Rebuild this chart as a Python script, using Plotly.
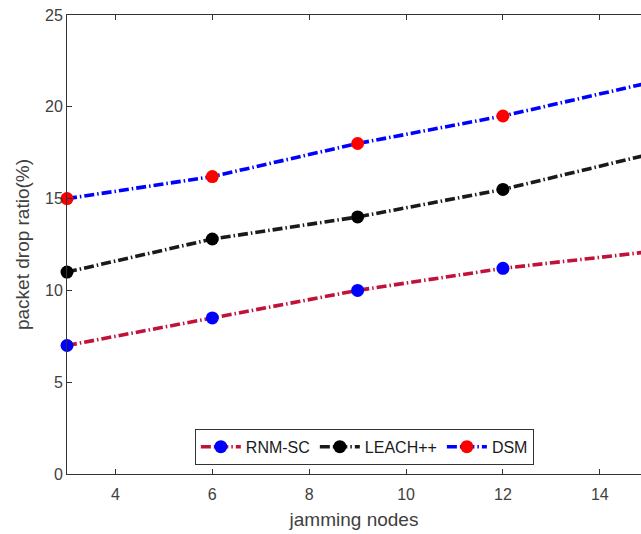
import plotly.graph_objects as go

# Number of jamming nodes
jamming_nodes = [3, 6, 9, 12, 15]

# Packet drop ratio (%) for each scheme
rnm_sc = [7.0, 8.5, 10.0, 11.2, 12.1]
leach_pp = [11.0, 12.8, 14.0, 15.5, 17.4]
dsm = [15.0, 16.2, 18.0, 19.5, 21.3]

series = [
    ("RNM-SC", rnm_sc, "#c1123a", "#0000ff"),
    ("LEACH++", leach_pp, "#1a1a1a", "#000000"),
    ("DSM", dsm, "#0000ff", "#ff0000"),
]

fig = go.Figure()
for name, values, line_color, marker_color in series:
    fig.add_trace(go.Scatter(
        x=jamming_nodes,
        y=values,
        name=name,
        mode="lines+markers",
        line=dict(color=line_color, width=3.6, dash="10px,3px,1.5px,3px"),
        marker=dict(color=marker_color, size=13, line=dict(width=0)),
        cliponaxis=False,
    ))

text_font = "Liberation Sans, Arial, sans-serif"
tick_font = dict(family=text_font, size=16, color="#404040")
title_font = dict(family=text_font, size=19, color="#404040")

fig.update_layout(
    width=641,
    height=534,
    margin=dict(l=67, r=0, t=15, b=60),
    plot_bgcolor="white",
    paper_bgcolor="white",
    font=tick_font,
    showlegend=True,
    legend=dict(
        orientation="h",
        x=0.518,
        xanchor="center",
        y=0.02,
        yanchor="bottom",
        bgcolor="white",
        bordercolor="#333333",
        borderwidth=1,
        font=dict(family=text_font, size=16, color="#1a1a1a"),
        itemwidth=40,
        tracegroupgap=0,
    ),
    xaxis=dict(
        range=[3, 14.85],
        tickvals=[4, 6, 8, 10, 12, 14],
        ticks="inside",
        ticklen=5,
        tickcolor="#333333",
        ticklabelstandoff=6,
        showline=True,
        linecolor="#333333",
        linewidth=1,
        mirror="ticks",
        showgrid=False,
        zeroline=False,
        title=dict(text="jamming nodes", font=title_font, standoff=10),
        tickfont=tick_font,
    ),
    yaxis=dict(
        range=[0, 25],
        tickvals=[0, 5, 10, 15, 20, 25],
        ticks="inside",
        ticklen=5,
        tickcolor="#333333",
        showline=True,
        linecolor="#333333",
        linewidth=1,
        mirror=False,
        showgrid=False,
        zeroline=False,
        title=dict(text="packet drop ratio(%)", font=title_font, standoff=10),
        tickfont=tick_font,
    ),
)

fig.write_html("out.html")
